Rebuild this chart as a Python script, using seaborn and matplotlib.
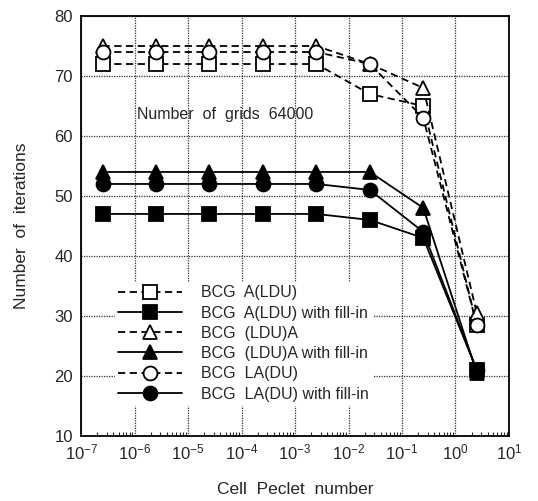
import numpy as np
import pandas as pd
import matplotlib
matplotlib.use("Agg")
import matplotlib.pyplot as plt
import seaborn as sns
from matplotlib.ticker import LogLocator, NullFormatter

# data
pe = [2.5e-7, 2.5e-6, 2.5e-5, 2.5e-4, 2.5e-3, 2.5e-2, 2.5e-1, 2.5]
a_ldu = [72, 72, 72, 72, 72, 67, 65, 28.5]
a_ldu_fill = [47, 47, 47, 47, 47, 46, 43, 21]
ldu_a = [75, 75, 75, 75, 75, 72, 68, 30.5]
ldu_a_fill = [54, 54, 54, 54, 54, 54, 48, 20.5]
la_du = [74, 74, 74, 74, 74, 72, 63, 28.5]
la_du_fill = [52, 52, 52, 52, 52, 51, 44, 21]

series = [
    ("BCG  A(LDU)", a_ldu, "s", False),
    ("BCG  A(LDU) with fill-in", a_ldu_fill, "s", True),
    ("BCG  (LDU)A", ldu_a, "^", False),
    ("BCG  (LDU)A with fill-in", ldu_a_fill, "^", True),
    ("BCG  LA(DU)", la_du, "o", False),
    ("BCG  LA(DU) with fill-in", la_du_fill, "o", True),
]

sns.set_style("white")
plt.rcParams['font.family'] = ['Liberation Sans', 'DejaVu Sans']

fig = plt.figure(figsize=(5.38, 5.01), dpi=100)
ax = fig.add_axes([0.151, 0.130, 0.795, 0.838])

for name, vals, mk, filled in series:
    df = pd.DataFrame({"pe": pe, "n": vals})
    kw = dict(color="black", marker=mk, markersize=10, markeredgewidth=1.3,
              markeredgecolor="black", linewidth=1.3,
              markerfacecolor="black" if filled else "white")
    if not filled:
        kw["dashes"] = (4, 2.5)
    sns.lineplot(data=df, x="pe", y="n", ax=ax, label=name, **kw)

ax.set_xscale("log")
ax.set_xlim(1e-7, 1e1)
ax.set_ylim(10, 80)
ax.set_yticks(range(10, 81, 10))
ax.xaxis.set_major_locator(LogLocator(base=10, numticks=20))
ax.xaxis.set_minor_locator(LogLocator(base=10, subs=np.arange(2, 10), numticks=20))
ax.xaxis.set_minor_formatter(NullFormatter())
ax.tick_params(axis="x", which="minor", direction="in", length=3, width=0.8, bottom=True)
ax.tick_params(axis="x", which="major", direction="in", length=0, labelsize=12, pad=5)
ax.tick_params(axis="y", which="major", length=0, labelsize=12, pad=6)

ax.grid(True, which="major", color="0.2", linestyle=(0, (1, 1)), linewidth=0.9)
for s in ax.spines.values():
    s.set_color("black")
    s.set_linewidth(1.3)

ax.set_xlabel("Cell  Peclet  number", fontsize=12.5, labelpad=14)
ax.set_ylabel("Number  of  iterations", fontsize=12.5, labelpad=18)

ax.text(10**-4.3, 63.5, "Number  of  grids  64000", fontsize=11.5, ha="center", va="center")

leg = ax.legend(loc="lower left", bbox_to_anchor=(0.06, 0.055), frameon=True,
                fontsize=11.5, handlelength=4.0, handletextpad=1.2,
                labelspacing=0.33, borderpad=0.2)
leg.get_frame().set_edgecolor("white")
leg.get_frame().set_facecolor("white")
leg.get_frame().set_alpha(1)

fig.savefig("out.png", dpi=100)
